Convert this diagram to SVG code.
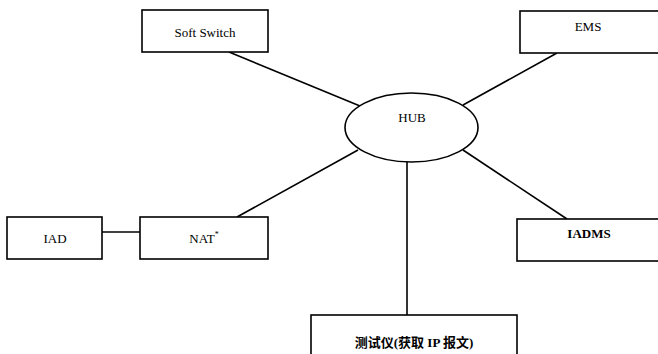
<svg xmlns="http://www.w3.org/2000/svg" width="658" height="354" viewBox="0 0 658 354">
<style>
.box{fill:#fff;stroke:#000;stroke-width:1.6}
.t{font-family:"Liberation Serif","Noto Sans CJK SC",serif;font-size:13px;fill:#000;text-anchor:middle}
.b{font-weight:bold}
.c{stroke:#000;stroke-width:1.6;fill:none}
</style>
<rect width="658" height="354" fill="#fff"/>
<g id="connectors">
<line class="c" x1="229" y1="52" x2="360" y2="106"/>
<line class="c" x1="557" y1="53" x2="463" y2="105"/>
<line class="c" x1="237" y1="217" x2="358" y2="150"/>
<line class="c" x1="463" y1="150" x2="567" y2="219"/>
<line class="c" x1="407" y1="162" x2="407" y2="315"/>
<line class="c" x1="102" y1="232" x2="140" y2="232"/>
</g>
<g id="softswitch">
<rect class="box" x="142" y="10" width="126" height="42"/>
<text class="t" x="205" y="37">Soft Switch</text>
</g>
<g id="ems">
<rect class="box" x="520" y="11" width="150" height="42"/>
<text class="t" x="588" y="31">EMS</text>
</g>
<g id="hub">
<ellipse class="box" cx="411.5" cy="127.5" rx="66.5" ry="34.5"/>
<text class="t" x="412" y="122">HUB</text>
</g>
<g id="iad">
<rect class="box" x="7" y="217" width="95" height="42"/>
<text class="t" x="55" y="243">IAD</text>
</g>
<g id="nat">
<rect class="box" x="140" y="217" width="128" height="42"/>
<text class="t" x="204" y="243">NAT<tspan font-size="8" dy="-6">*</tspan></text>
</g>
<g id="iadms">
<rect class="box" x="517" y="219" width="150" height="42"/>
<text class="t b" x="589" y="238">IADMS</text>
</g>
<g id="tester">
<rect class="box" x="311" y="315" width="206" height="50"/>
<text class="t b" x="414" y="347">测试仪(获取 IP 报文)</text>
</g>
</svg>
